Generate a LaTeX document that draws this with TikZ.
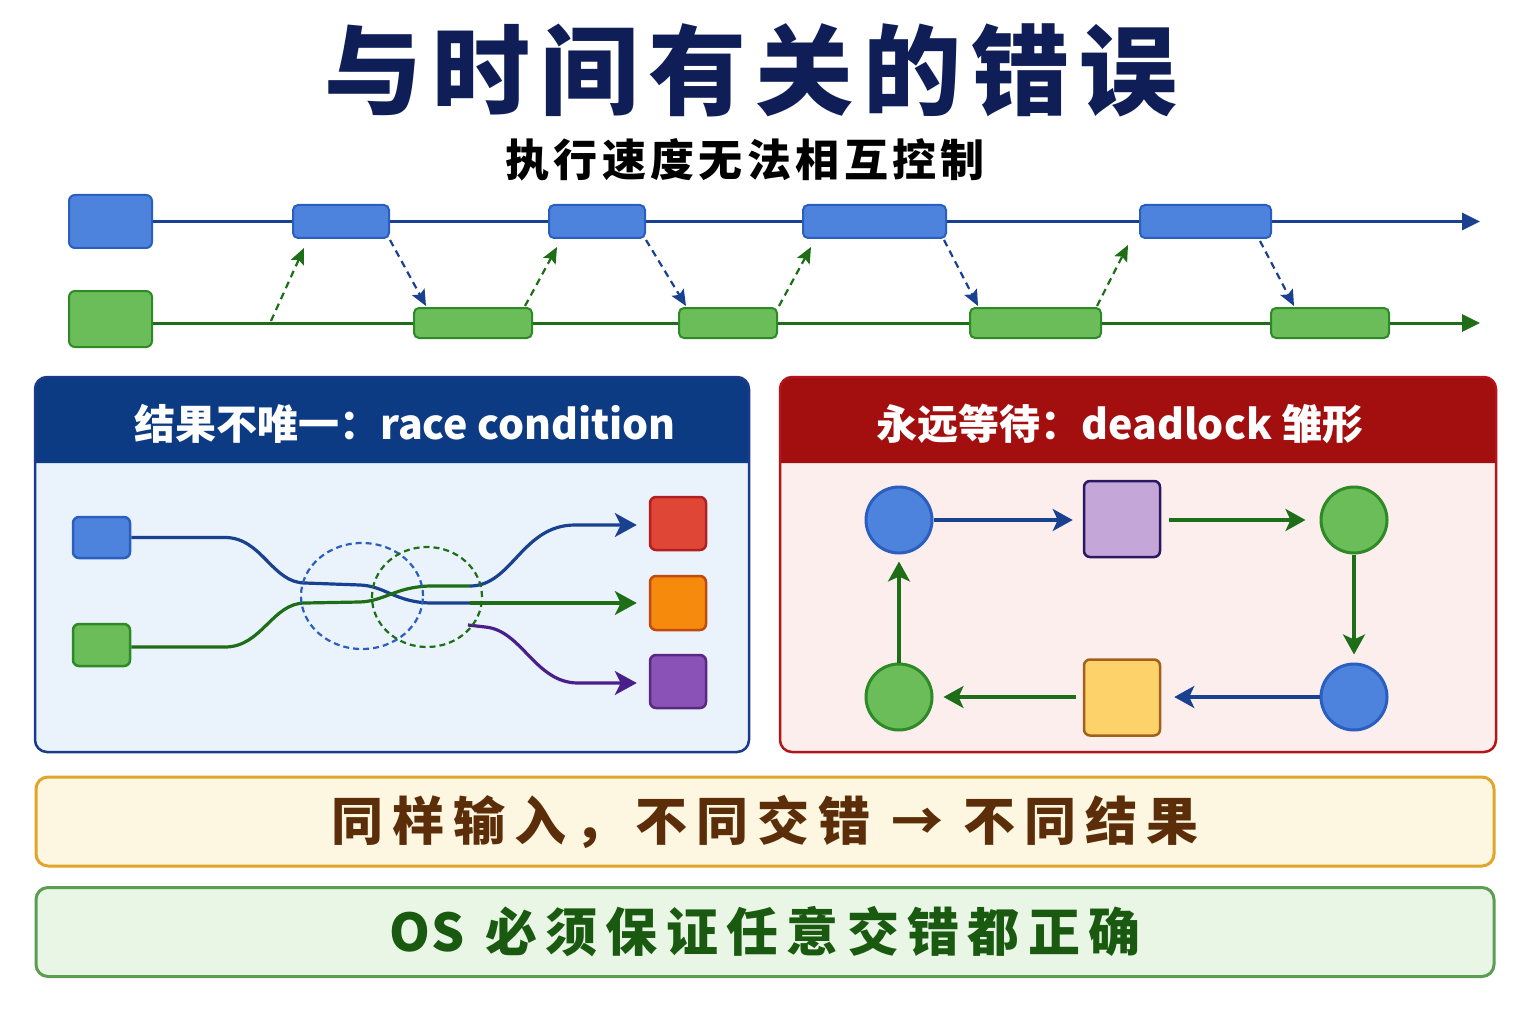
\documentclass[tikz,border=0pt]{standalone}
\usepackage{fontspec}
\newfontfamily\cjk{Noto Sans CJK SC}
\newfontfamily\cjkblk{Noto Sans CJK SC Black}
\usetikzlibrary{arrows.meta,calc}
\definecolor{titleblue}{RGB}{16,30,88}
\definecolor{bline}{RGB}{26,64,144}
\definecolor{bfill}{RGB}{77,131,220}
\definecolor{bdraw}{RGB}{42,95,192}
\definecolor{gfill}{RGB}{106,189,88}
\definecolor{gdraw}{RGB}{46,138,38}
\definecolor{gline}{RGB}{29,110,23}
\definecolor{lhdr}{RGB}{12,59,132}
\definecolor{lbody}{RGB}{234,243,252}
\definecolor{lborder}{RGB}{27,58,138}
\definecolor{rhdr}{RGB}{163,14,14}
\definecolor{rbody}{RGB}{253,238,238}
\definecolor{rborder}{RGB}{178,22,26}
\definecolor{redf}{RGB}{224,70,54}
\definecolor{redd}{RGB}{176,32,32}
\definecolor{orf}{RGB}{246,138,12}
\definecolor{ord}{RGB}{192,74,16}
\definecolor{puf}{RGB}{138,82,182}
\definecolor{pud}{RGB}{88,40,130}
\definecolor{puline}{RGB}{74,31,138}
\definecolor{lilf}{RGB}{196,166,217}
\definecolor{lild}{RGB}{42,24,96}
\definecolor{yelf}{RGB}{253,210,107}
\definecolor{yeld}{RGB}{160,98,26}
\definecolor{note1f}{RGB}{253,246,224}
\definecolor{note1d}{RGB}{224,165,42}
\definecolor{note1t}{RGB}{91,45,8}
\definecolor{note2f}{RGB}{233,245,229}
\definecolor{note2d}{RGB}{90,158,80}
\definecolor{note2t}{RGB}{26,90,16}
\tikzset{
  bbox/.style={draw=bdraw,fill=bfill,line width=2pt,rounded corners=5pt,inner sep=0pt,minimum height=33pt},
  gbox/.style={draw=gdraw,fill=gfill,line width=2pt,rounded corners=5pt,inner sep=0pt,minimum height=30pt},
  tlb/.style={draw=bline,line width=3pt},
  tlg/.style={draw=gline,line width=3pt},
  tip/.style={-{Triangle[length=18pt,width=17pt]}},
  dashb/.style={draw=bline,line width=2.2pt,dash pattern=on 7pt off 5pt,-{Stealth[length=16pt,width=14pt,inset=3pt]}},
  dashg/.style={draw=gline,line width=2.2pt,dash pattern=on 7pt off 5pt,-{Stealth[length=16pt,width=14pt,inset=3pt]}},
  bigtip/.style={-{Stealth[length=22pt,width=24pt,inset=6pt]}},
  sq/.style={line width=2.5pt,rounded corners=6pt,inner sep=0pt},
  circ/.style={circle,line width=3pt,minimum size=66pt,inner sep=0pt},
  hdrtext/.style={text=white,font=\cjk\bfseries\fontsize{41}{41}\selectfont},
  note/.style={line width=3pt,rounded corners=12pt,minimum width=1458pt,minimum height=89pt,inner sep=0pt},
}
\begin{document}
\begin{tikzpicture}[x=1pt,y=-1pt]
\useasboundingbox (0,0) rectangle (1536,1024);
\fill[white] (0,0) rectangle (1536,1024);

% titles
\node[text=titleblue,font=\cjkblk\fontsize{98}{98}\selectfont\addfontfeature{LetterSpace=10}] (title) at (751,70) {与时间有关的错误};
\node[text=black,font=\cjk\bfseries\fontsize{44}{44}\selectfont\addfontfeature{LetterSpace=10}] (sub) at (745,160) {执行速度无法相互控制};

% timeline boxes
\node[bbox,minimum width=83pt,minimum height=53pt,rounded corners=6pt] (b0) at (110.5,221.5) {};
\node[bbox,minimum width=96pt] (b1) at (341,221.5) {};
\node[bbox,minimum width=96pt] (b2) at (597,221.5) {};
\node[bbox,minimum width=143pt] (b3) at (874.5,221.5) {};
\node[bbox,minimum width=131pt] (b4) at (1205.5,221.5) {};
\coordinate (bend) at (1480,221.5);

\node[gbox,minimum width=83pt,minimum height=56pt,rounded corners=6pt] (g0) at (110.5,319) {};
\node[gbox,minimum width=118pt] (g1) at (473,323) {};
\node[gbox,minimum width=98pt] (g2) at (728,323) {};
\node[gbox,minimum width=131pt] (g3) at (1035.5,323) {};
\node[gbox,minimum width=118pt] (g4) at (1330,323) {};
\coordinate (gend) at (1480,323);
\coordinate (s1) at (271,321);

\draw[tlb] (b0.east) -- (b1.west);
\draw[tlb] (b1.east) -- (b2.west);
\draw[tlb] (b2.east) -- (b3.west);
\draw[tlb] (b3.east) -- (b4.west);
\draw[tlb,tip] (b4.east) -- (bend);
\draw[tlg] (g0.east |- g1.west) -- (g1.west);
\draw[tlg] (g1.east) -- (g2.west);
\draw[tlg] (g2.east) -- (g3.west);
\draw[tlg] (g3.east) -- (g4.west);
\draw[tlg,tip] (g4.east) -- (gend);

% dashed messages
\draw[dashg] (s1) -- ($(b1.south west)+(12,9)$);
\draw[dashb] ($(b1.south east)+(0,1)$) -- ($(g1.north west)+(13,-1)$);
\draw[dashg] ($(g1.north east)+(-8,-1)$) -- ($(b2.south west)+(9,8)$);
\draw[dashb] ($(b2.south east)+(0,1)$) -- ($(g2.north west)+(8,-1)$);
\draw[dashg] ($(g2.north east)+(1,-1)$) -- ($(b3.south west)+(9,8)$);
\draw[dashb] ($(b3.south east)+(-3,1)$) -- ($(g3.north west)+(9,-1)$);
\draw[dashg] ($(g3.north east)+(-5,-1)$) -- ($(b4.south west)+(-11,6)$);
\draw[dashb] ($(b4.south east)+(-12,2)$) -- ($(g4.north west)+(24,-1)$);

% left panel
\fill[lbody,rounded corners=12pt] (35,377) rectangle (749,752);
\fill[lhdr] (35,463) [rounded corners=12pt] -- (35,377) -- (749,377) [sharp corners] -- (749,463) -- cycle;
\draw[lborder,line width=2.5pt,rounded corners=12pt] (35,377) rectangle (749,752);
\node[hdrtext] (lt) at (405,424) {结果不唯一：race condition};

% right panel
\fill[rbody,rounded corners=12pt] (780,377) rectangle (1496,752);
\fill[rhdr] (780,463) [rounded corners=12pt] -- (780,377) -- (1496,377) [sharp corners] -- (1496,463) -- cycle;
\draw[rborder,line width=2.5pt,rounded corners=12pt] (780,377) rectangle (1496,752);
\node[hdrtext] (rt) at (1120,424) {永远等待：deadlock 雏形};

% race condition
\node[sq,draw=bdraw,fill=bfill,minimum width=57pt,minimum height=41pt] (rb) at (101.5,537.5) {};
\node[sq,draw=gdraw,fill=gfill,minimum width=57pt,minimum height=42pt] (rg) at (101.5,645) {};
\node[sq,draw=redd,fill=redf,minimum width=56pt,minimum height=53pt] (rr) at (678,523.5) {};
\node[sq,draw=ord,fill=orf,minimum width=56pt,minimum height=54pt] (ro) at (678,603) {};
\node[sq,draw=pud,fill=puf,minimum width=56pt,minimum height=53pt] (rp) at (678,681.5) {};
\coordinate (xu) at (470,586);
\coordinate (xl) at (470,603);
\coordinate (pst) at (468,625);

\draw[bline,line width=3.2pt] (rb.east) -- (225,537.5) .. controls (262,537.5) and (272,583) .. (305,583) -- (360,585) .. controls (385,586) and (395,602) .. (430,603) -- (xl);
\draw[gline,line width=3.2pt] (rg.east |- 0,647) -- (225,647) .. controls (262,647) and (272,603) .. (305,603) -- (360,602) .. controls (385,601) and (395,587) .. (430,586) -- (xu);
\draw[bline,line width=3.2pt,bigtip,shorten >=12pt] (xu) .. controls (512,586) and (522,525) .. (575,525) -- (rr.west |- 0,525);
\draw[gline,line width=3.2pt,bigtip,shorten >=12pt] (xl) -- (ro.west);
\draw[puline,line width=3.2pt,bigtip,shorten >=12pt] (pst) -- (485,627) .. controls (522,630) and (535,683) .. (578,683) -- (rp.west |- 0,683);
\draw[bdraw,line width=2.2pt,dash pattern=on 6pt off 4pt] (362,596) ellipse [x radius=61pt,y radius=53pt];
\draw[gline,line width=2.2pt,dash pattern=on 6pt off 4pt] (427,597) ellipse [x radius=55pt,y radius=50pt];

% deadlock
\node[circ,draw=bdraw,fill=bfill] (c1) at (899,520) {};
\node[sq,draw=lild,fill=lilf,minimum size=76pt] (s1q) at (1122,519) {};
\node[circ,draw=gdraw,fill=gfill] (c2) at (1354,520) {};
\node[circ,draw=bdraw,fill=bfill] (c3) at (1354,697) {};
\node[sq,draw=yeld,fill=yelf,minimum size=76pt] (s2q) at (1122,697.5) {};
\node[circ,draw=gdraw,fill=gfill] (c4) at (899,697) {};
\tikzset{dl/.style={line width=3.2pt,-{Stealth[length=20pt,width=22pt,inset=5pt]}}}
\draw[dl,bline,shorten >=10pt] (c1.east) -- (s1q.west |- c1.east);
\draw[dl,gline,shorten <=8pt,shorten >=14pt] (s1q.east |- c2.west) -- (c2.west);
\draw[dl,gline,shorten >=8pt] (c2.south) -- (c3.north);
\draw[dl,bline,shorten >=13pt] (c3.west) -- (s2q.east |- c3.west);
\draw[dl,gline,shorten <=7pt,shorten >=10pt] (s2q.west |- c4.east) -- (c4.east);
\draw[dl,gline,shorten >=7pt] (c4.north) -- (c1.south);

% notes
\node[note,draw=note1d,fill=note1f,text=note1t,font=\cjk\bfseries\fontsize{52}{52}\selectfont\addfontfeature{LetterSpace=17}] (n1) at (765,821.5) {同样输入，不同交错 → 不同结果};
\node[note,draw=note2d,fill=note2f,text=note2t,font=\cjk\bfseries\fontsize{52}{52}\selectfont\addfontfeature{LetterSpace=16}] (n2) at (765,932) {{\addfontfeature{LetterSpace=3}OS} 必须保证任意交错都正确};
\end{tikzpicture}
\end{document}
